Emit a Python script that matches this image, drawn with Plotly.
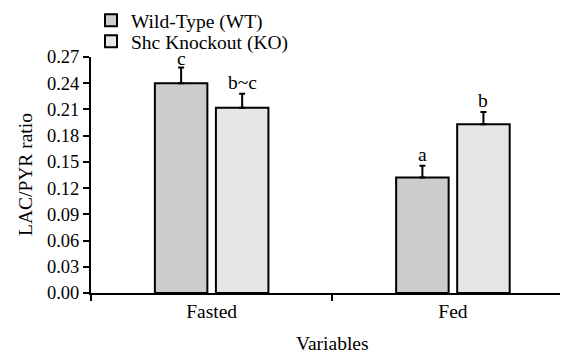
import plotly.graph_objects as go

categories = ["Fasted", "Fed"]
wt_values = [0.240, 0.132]
wt_errors = [0.018, 0.0135]
ko_values = [0.212, 0.193]
ko_errors = [0.016, 0.014]
wt_letters = ["c", "a"]
ko_letters = ["b~c", "b"]
y_ticks = [0.00, 0.03, 0.06, 0.09, 0.12, 0.15, 0.18, 0.21, 0.24, 0.27]
x_title = "Variables"
y_title = "LAC/PYR ratio"

FONT = "Liberation Serif"
FS = 19.5
W, H = 560, 348  # page body has an 8px default margin

fig = go.Figure()
fig.add_trace(go.Bar(
    name="Wild-Type (WT)", x=categories, y=wt_values, legend="legend",
    marker=dict(color="#cccccc", line=dict(color="black", width=2)),
    error_y=dict(type="data", array=wt_errors, symmetric=False, arrayminus=[0, 0],
                 color="black", thickness=2, width=3),
))
fig.add_trace(go.Bar(
    name="Shc Knockout (KO)", x=categories, y=ko_values, legend="legend2",
    marker=dict(color="#e6e6e6", line=dict(color="black", width=2)),
    error_y=dict(type="data", array=ko_errors, symmetric=False, arrayminus=[0, 0],
                 color="black", thickness=2, width=3),
))

# significance letters above error bars
for i, cat in enumerate(categories):
    fig.add_annotation(x=cat, y=wt_values[i] + wt_errors[i], text=wt_letters[i],
                       showarrow=False, yanchor="bottom", xshift=-30.5,
                       yshift=-4 if i == 0 else -1,
                       font=dict(family=FONT, size=FS, color="black"))
    fig.add_annotation(x=cat, y=ko_values[i] + ko_errors[i], text=ko_letters[i],
                       showarrow=False, yanchor="bottom", xshift=30.5, yshift=-1,
                       font=dict(family=FONT, size=FS, color="black"))

# axis titles
fig.add_annotation(text=y_title, xref="paper", yref="paper", x=0, y=0.5,
                   xshift=-66, textangle=-90, showarrow=False,
                   xanchor="center", yanchor="middle",
                   font=dict(family=FONT, size=FS, color="black"))
fig.add_annotation(text=x_title, xref="paper", yref="paper", x=0.507, y=0,
                   yshift=-50, showarrow=False, xanchor="center", yanchor="middle",
                   font=dict(family=FONT, size=FS, color="black"))

legend_common = dict(xref="container", yref="container", xanchor="left", yanchor="middle",
                     bgcolor="rgba(0,0,0,0)", font=dict(family=FONT, size=FS, color="black"),
                     borderwidth=0)

fig.update_layout(
    width=W, height=H,
    margin=dict(l=83, r=0, t=49, b=63, autoexpand=False),
    paper_bgcolor="white", plot_bgcolor="white",
    font=dict(family=FONT, size=FS, color="black"),
    barmode="group", bargap=0.494, bargroupgap=0.14,
    showlegend=True,
    legend=dict(x=83 / W, y=1 - 12.5 / H, **legend_common),
    legend2=dict(x=83 / W, y=1 - 33.5 / H, **legend_common),
    xaxis=dict(
        range=[-0.5, 1.477], showline=True, linecolor="black", linewidth=2,
        ticks="outside", tickson="boundaries", ticklen=6, tickwidth=2, tickcolor="black",
        showgrid=False, zeroline=False,
        tickfont=dict(family=FONT, size=FS),
    ),
    yaxis=dict(
        range=[0, 0.27], tickvals=y_ticks, ticktext=[f"{v:.2f}" for v in y_ticks],
        showline=True, linecolor="black", linewidth=2,
        ticks="outside", ticklen=6, tickwidth=2, tickcolor="black",
        showgrid=False, zeroline=False,
        tickfont=dict(family=FONT, size=18.5),
    ),
)

fig.write_html("out.html")
